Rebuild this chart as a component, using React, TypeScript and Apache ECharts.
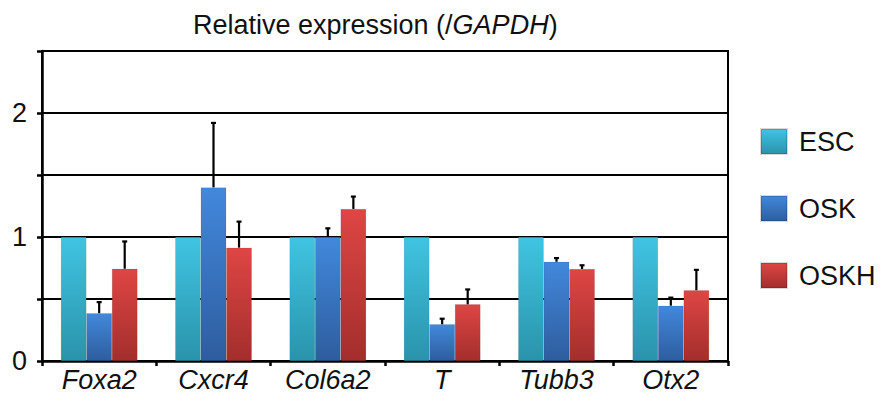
import React, { useEffect, useRef } from "react";
import * as echarts from "echarts";

const categories = ["Foxa2", "Cxcr4", "Col6a2", "T", "Tubb3", "Otx2"];
const seriesNames = ["ESC", "OSK", "OSKH"];
const escValues = [1, 1, 1, 1, 1, 1];
const oskValues = [0.385, 1.4, 1.0, 0.296, 0.8, 0.446];
const oskhValues = [0.744, 0.914, 1.226, 0.457, 0.742, 0.57];
const escErrors = [0, 0, 0, 0, 0, 0];
const oskErrors = [0.09, 0.52, 0.07, 0.045, 0.03, 0.065];
const oskhErrors = [0.22, 0.21, 0.1, 0.12, 0.03, 0.165];
const yTicks = [0, 1, 2];

const grad = (light: string, dark: string) =>
  new echarts.graphic.LinearGradient(0, 0, 0, 1, [
    { offset: 0, color: light },
    { offset: 1, color: dark },
  ]);

const colors = [
  ["#40c4e2", "#2a93ab"],
  ["#4288dc", "#2e5d9e"],
  ["#de4644", "#a32e2c"],
];

const CAT_GAP = 0.33;
const FONT = "Liberation Sans, Arial, sans-serif";
const FS = 27;

export default function App() {
  const ref = useRef<HTMLDivElement>(null);
  useEffect(() => {
    if (!ref.current) return;
    const chart = echarts.init(ref.current, null, { renderer: "svg" });
    const values = [escValues, oskValues, oskhValues];
    const errors = [escErrors, oskErrors, oskhErrors];

    const barSeries = seriesNames.map((name, i) => ({
      name,
      type: "bar",
      data: values[i],
      barGap: "0%",
      barCategoryGap: `${CAT_GAP * 100}%`,
      itemStyle: {
        color: grad(colors[i][0], colors[i][1]),
        borderColor: "rgba(0,0,0,0.15)",
        borderWidth: 0.5,
      },
      z: 2,
    }));

    const errSeries = seriesNames.map((name, i) => ({
      name: name + "-err",
      type: "custom",
      z: 3,
      data: values[i].map((v, k) => [k, v, errors[i][k]]),
      encode: { x: 0, y: 1 },
      renderItem: (params: any, api: any) => {
        const idx = api.value(0);
        const v = api.value(1);
        const e = api.value(2);
        if (!e) return null;
        const catW = api.size([1, 0])[0];
        const barW = (catW * (1 - CAT_GAP)) / 3;
        const base = api.coord([idx, v]);
        const top = api.coord([idx, v + e]);
        const x = base[0] + (i - 1) * barW;
        const capHalf = 2.5;
        return {
          type: "group",
          children: [
            {
              type: "line",
              shape: { x1: x, y1: base[1], x2: x, y2: top[1] },
              style: { stroke: "#000", lineWidth: 2.2 },
            },
            {
              type: "line",
              shape: { x1: x - capHalf, y1: top[1], x2: x + capHalf, y2: top[1] },
              style: { stroke: "#000", lineWidth: 2.2 },
            },
          ],
        };
      },
    }));

    chart.setOption({
      animation: false,
      textStyle: { fontFamily: FONT },
      title: {
        text: "{a|Relative expression (/}{b|GAPDH}{a|)}",
        left: 188,
        top: 6,
        textStyle: {
          fontWeight: "normal",
          rich: {
            a: { fontSize: FS, color: "#111", fontFamily: FONT, fontWeight: "normal" },
            b: { fontSize: FS, color: "#111", fontStyle: "italic", fontFamily: FONT, fontWeight: "normal" },
          },
        },
      },
      legend: {
        data: seriesNames,
        orient: "vertical",
        left: 755,
        top: 123,
        itemWidth: 26,
        itemHeight: 25,
        itemGap: 40,
        textStyle: { fontSize: FS, color: "#111", padding: [0, 0, 0, 7], fontFamily: FONT },
        icon: "rect",
      },
      grid: { left: 42, right: 154, top: 51, bottom: 40, containLabel: false, show: true, borderColor: "#000", borderWidth: 2 },
      xAxis: {
        type: "category",
        data: categories,
        axisLine: { lineStyle: { color: "#000", width: 2.5 } },
        axisTick: { show: true, length: 5, lineStyle: { color: "#000", width: 2.5 } },
        axisLabel: { fontSize: FS, fontStyle: "italic", color: "#111", margin: 5, fontFamily: FONT },
      },
      yAxis: {
        type: "value",
        min: 0,
        max: 2.5,
        interval: 0.5,
        axisLine: { show: true, lineStyle: { color: "#000", width: 2.5 } },
        axisTick: { show: true, length: 5, lineStyle: { color: "#000", width: 2.5 } },
        splitLine: { show: true, lineStyle: { color: "#000", width: 2 } },
        axisLabel: {
          fontSize: FS,
          color: "#111",
          margin: 15,
          fontFamily: FONT,
          formatter: (v: number) => (yTicks.includes(v) ? String(v) : ""),
        },
      },
      series: [...barSeries, ...errSeries],
    });
    return () => chart.dispose();
  }, []);
  return <div ref={ref} style={{ width: 882, height: 401, position: "absolute", left: 0, top: 0 }} />;
}
